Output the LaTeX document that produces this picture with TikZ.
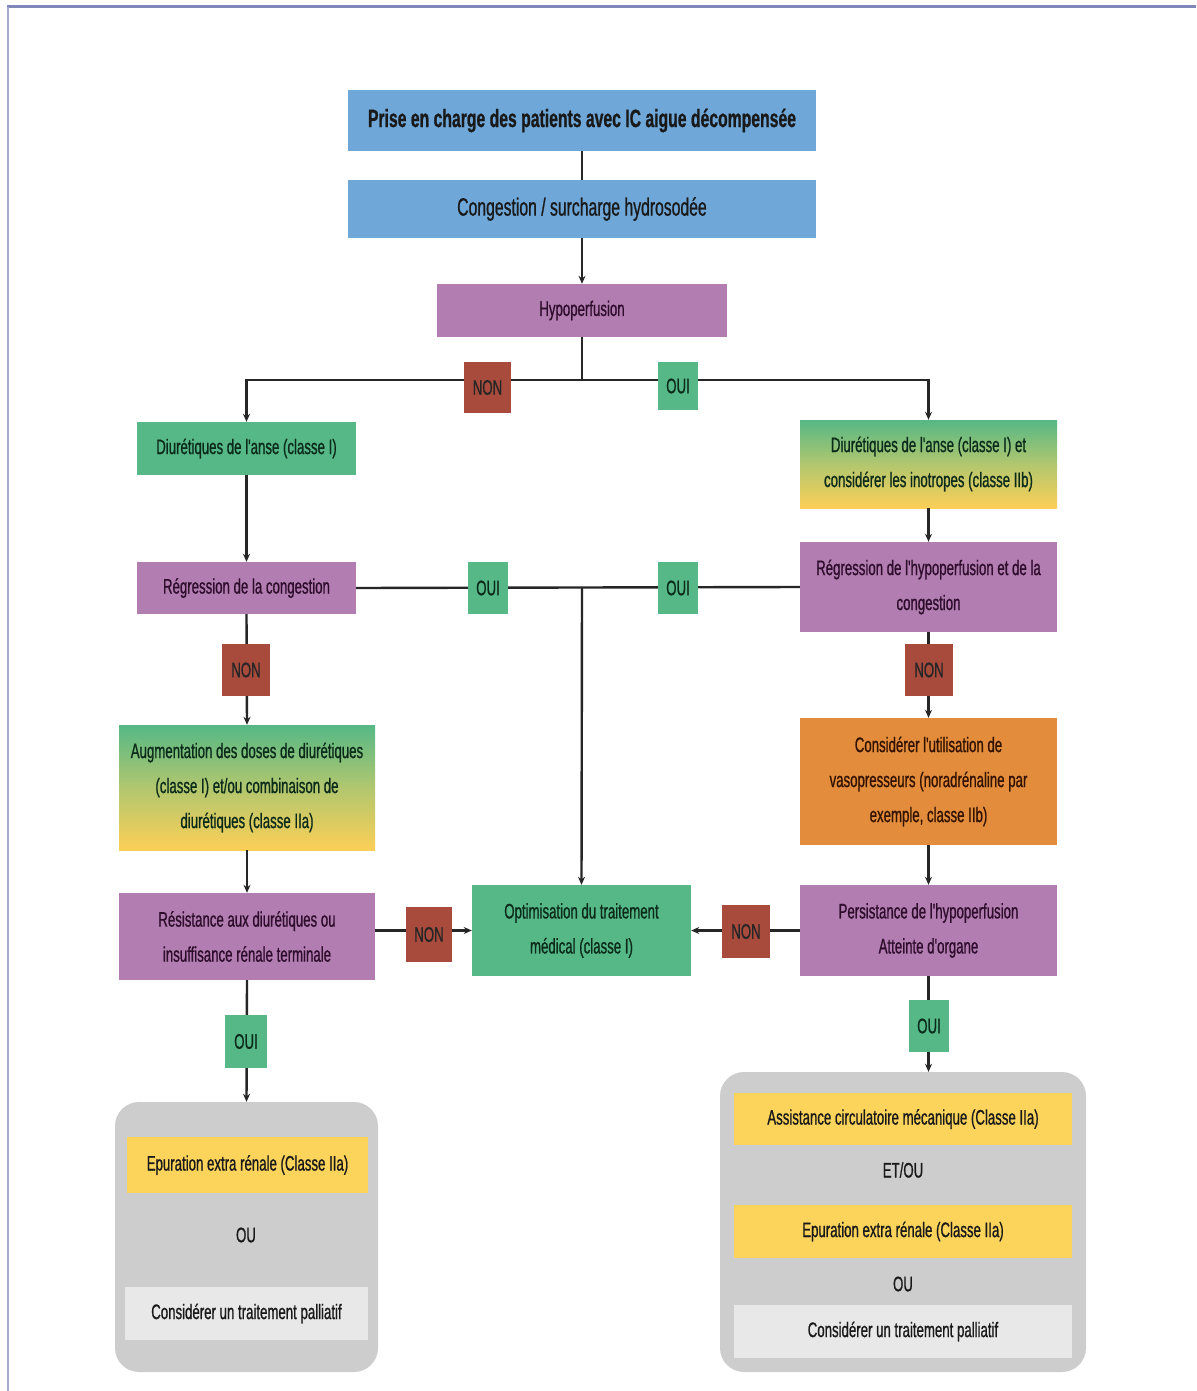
\documentclass[tikz,border=0pt]{standalone}
\usepackage{fontspec}
\newfontfamily\nar{Liberation Sans}[FakeStretch=0.63, FakeBold=0.8]
\usetikzlibrary{arrows.meta}
\definecolor{cblue}{HTML}{6EA7D8}
\definecolor{cpurple}{HTML}{B27DB0}
\definecolor{cgreen}{HTML}{55B886}
\definecolor{cred}{HTML}{A84A3C}
\definecolor{corange}{HTML}{E38D3C}
\definecolor{cyellow}{HTML}{FCD35B}
\definecolor{cgrey}{HTML}{CDCDCD}
\definecolor{clight}{HTML}{E8E8E8}
\definecolor{cframe}{HTML}{7F86B8}
\definecolor{txtgreen}{HTML}{0B2A1A}
\definecolor{txtpurple}{HTML}{2E0C2C}
\definecolor{txtorange}{HTML}{331200}
\tikzset{
  box/.style={inner sep=0pt, align=center, text=black!90,
    font=\nar\fontsize{21}{35}\selectfont},
  bluebox/.style={box, fill=cblue, font=\nar\fontsize{25}{30}\selectfont},
  purplebox/.style={box, fill=cpurple, text=txtpurple},
  greenbox/.style={box, fill=cgreen, text=txtgreen},
  orangebox/.style={box, fill=corange, text=txtorange},
  gradbox/.style={box, top color=cgreen, bottom color=cyellow!95!orange,
    middle color=cgreen!45!cyellow, text=txtgreen},
  yellowbox/.style={box, fill=cyellow, text=black!90},
  lightbox/.style={box, fill=clight, text=black!90},
  nonlab/.style={box, fill=cred, text=black!85, minimum width=47, minimum height=52},
  ouilab/.style={box, fill=cgreen, text=txtgreen, minimum width=40, minimum height=52},
  plain/.style={box, text=black!90},
  grouping/.style={fill=cgrey, rounded corners=24pt},
  link/.style={draw=black!85, line width=2.4pt},
  arr/.style={link, -{Stealth[length=8pt,width=7pt]}},
}
\begin{document}
\begin{tikzpicture}[x=1pt, y=-1pt]
\useasboundingbox (0,0) rectangle (1196,1391);
\fill[white] (0,0) rectangle (1196,1391);
% page frame
\draw[cframe, line width=3pt] (7,7) -- (1196,7);
\draw[cframe!70, line width=2pt] (8,7) -- (8,1391);

% grouped outcomes (drawn first, as backgrounds)
\node[grouping, minimum width=263, minimum height=270] (gL) at (246.5,1237) {};
\node[grouping, minimum width=366, minimum height=300] (gR) at (903,1222) {};

% main boxes
\node[bluebox, minimum width=468, minimum height=61] (title) at (582,120.5)
  {\bfseries Prise en charge des patients avec IC aigue décompensée};
\node[bluebox, minimum width=468, minimum height=58] (cong) at (582,209)
  {Congestion / surcharge hydrosodée};
\node[purplebox, minimum width=290, minimum height=53] (hypo) at (582,310.5)
  {Hypoperfusion};
\node[greenbox, minimum width=219, minimum height=53] (diu) at (246.5,448.5)
  {Diurétiques de l'anse (classe I)};
\node[gradbox, minimum width=257, minimum height=88] (diuR) at (928.5,464)
  {Diurétiques de l'anse (classe I) et\\considérer les inotropes (classe IIb)};
\node[purplebox, minimum width=219, minimum height=52] (regC) at (246.5,588)
  {Régression de la congestion};
\node[purplebox, minimum width=257, minimum height=90] (regH) at (928.5,587)
  {Régression de l'hypoperfusion et de la\\congestion};
\node[gradbox, minimum width=256, minimum height=125] (aug) at (247,787.5)
  {Augmentation des doses de diurétiques\\(classe I) et/ou combinaison de\\diurétiques (classe IIa)};
\node[orangebox, minimum width=257, minimum height=127] (vaso) at (928.5,781.5)
  {Considérer l'utilisation de\\vasopresseurs (noradrénaline par\\exemple, classe IIb)};
\node[purplebox, minimum width=256, minimum height=87] (resist) at (247,936.5)
  {Résistance aux diurétiques ou\\insuffisance rénale terminale};
\node[greenbox, minimum width=219, minimum height=91] (optim) at (581.5,930.5)
  {Optimisation du traitement\\médical (classe I)};
\node[purplebox, minimum width=257, minimum height=91] (persist) at (928.5,930.5)
  {Persistance de l'hypoperfusion\\Atteinte d'organe};

% contents of the grouped outcomes
\node[yellowbox, minimum width=241, minimum height=56] (epL) at (247.5,1165)
  {Epuration extra rénale (Classe IIa)};
\node[plain] (ouL) at (246,1235) {OU};
\node[lightbox, minimum width=243, minimum height=53] (palL) at (246.5,1313.5)
  {Considérer un traitement palliatif};
\node[yellowbox, minimum width=338, minimum height=52] (assR) at (903,1119)
  {Assistance circulatoire mécanique (Classe IIa)};
\node[plain] (etR) at (903,1170) {ET/OU};
\node[yellowbox, minimum width=338, minimum height=53] (epR) at (903,1231.5)
  {Epuration extra rénale (Classe IIa)};
\node[plain] (ouR) at (903,1284) {OU};
\node[lightbox, minimum width=338, minimum height=53] (palR) at (903,1331.5)
  {Considérer un traitement palliatif};

% junction points
\coordinate (j1) at (582,380);
\coordinate (j2) at (582,588);

% connectors
\draw[link] (title.south) -- (cong.north);
\draw[arr] (cong.south) -- (hypo.north);
\draw[link] (hypo.south) -- (j1);
\draw[arr] (j1) -- (j1 -| diu.north) -- (diu.north);
\draw[arr] (j1) -- (j1 -| diuR.north) -- (diuR.north);
\draw[arr] (diu.south) -- (regC.north);
\draw[arr] (diuR.south) -- (regH.north);
\draw[link] (regC.east) -- (regH.west);
\draw[arr] (j2) -- (optim.north);
\draw[arr] (regC.south) -- (aug.north);
\draw[arr] (regH.south) -- (vaso.north);
\draw[arr] (aug.south) -- (resist.north);
\draw[arr] (vaso.south) -- (persist.north);
\draw[arr] (resist.east |- optim.west) -- (optim.west);
\draw[arr] (persist.west) -- (optim.east);
\draw[arr] (resist.south) -- (gL.north);
\draw[arr] (persist.south) -- (persist.south |- gR.north);

% answer labels on the connectors
\node[nonlab, minimum height=51] (n1) at (487.5,387.5) {NON};
\node[ouilab, minimum height=48] (o1) at (678,386) {OUI};
\node[ouilab] (o2) at (488,588) {OUI};
\node[ouilab] (o3) at (678,588) {OUI};
\node[nonlab, minimum width=48] (n2) at (246,670) {NON};
\node[nonlab, minimum width=48] (n3) at (929,670) {NON};
\node[nonlab, minimum width=46, minimum height=55] (n4) at (429,934.5) {NON};
\node[nonlab, minimum width=48, minimum height=53] (n5) at (746,931.5) {NON};
\node[ouilab, minimum width=42, minimum height=53] (o4) at (246,1041.5) {OUI};
\node[ouilab] (o5) at (929,1026) {OUI};
\end{tikzpicture}
\end{document}
